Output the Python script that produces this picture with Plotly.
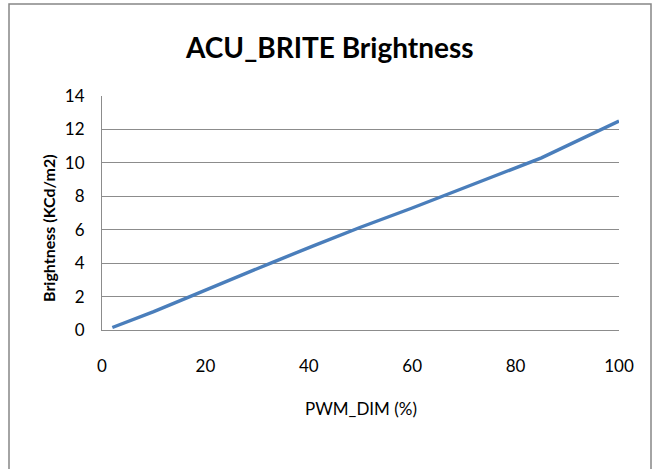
import plotly.graph_objects as go

pwm_dim = [2, 10, 17, 25, 33, 41, 50, 60, 70, 85, 100]
brightness = [0.15, 1.1, 2.0, 3.05, 4.05, 5.05, 6.15, 7.3, 8.5, 10.3, 12.5]
x_ticks = [0, 20, 40, 60, 80, 100]
y_ticks = [0, 2, 4, 6, 8, 10, 12, 14]

FONT = "Lato, Open Sans, sans-serif"
GRID = "#8c8c8c"

fig = go.Figure()
fig.add_trace(go.Scatter(x=pwm_dim, y=brightness, mode="lines",
                         line=dict(color="#4a7ebb", width=3.4), showlegend=False))

fig.update_layout(
    width=653, height=469,
    margin=dict(l=102, r=34, t=96, b=139),
    paper_bgcolor="white", plot_bgcolor="white",
    font=dict(family=FONT, color="#000000", size=17),
    title=dict(text="<b>ACU_BRITE Brightness</b>", x=0.505, xanchor="center",
               y=1 - 48 / 469, yanchor="middle",
               font=dict(family=FONT, size=28, color="#000000")),
    xaxis=dict(range=[0, 100], tickvals=x_ticks, showgrid=False, zeroline=False,
               showline=True, linecolor=GRID, linewidth=1.2,
               ticks="outside", ticklen=20, tickcolor="rgba(0,0,0,0)",
               tickfont=dict(size=17)),
    yaxis=dict(range=[0, 14], tickvals=y_ticks, showgrid=True, gridcolor=GRID,
               gridwidth=1.2, zeroline=False, showline=True, linecolor=GRID,
               linewidth=1.2, ticks="outside", ticklen=13,
               tickcolor="rgba(0,0,0,0)", tickfont=dict(size=17)),
    annotations=[
        dict(text="<b>Brightness (KCd/m2)</b>", xref="paper", yref="paper",
             x=(48 - 102) / 517, y=(330 - 228) / 234, textangle=-90,
             showarrow=False, xanchor="center", yanchor="middle",
             font=dict(size=16)),
        dict(text="PWM_DIM (%)", xref="paper", yref="paper",
             x=0.5, y=(330 - 408) / 234, showarrow=False,
             xanchor="center", yanchor="middle", font=dict(size=17)),
    ],
    shapes=[dict(type="rect", xref="paper", yref="paper",
                 x0=(9 - 102) / 517, x1=(651 - 102) / 517,
                 y0=(330 - 475) / 234, y1=(330 - 4) / 234,
                 line=dict(color="#868686", width=1.5))],
)

fig.write_html("out.html",
               config={"displayModeBar": False},
               post_script="document.body.style.margin='0';"
                           "document.body.style.overflow='hidden';")
